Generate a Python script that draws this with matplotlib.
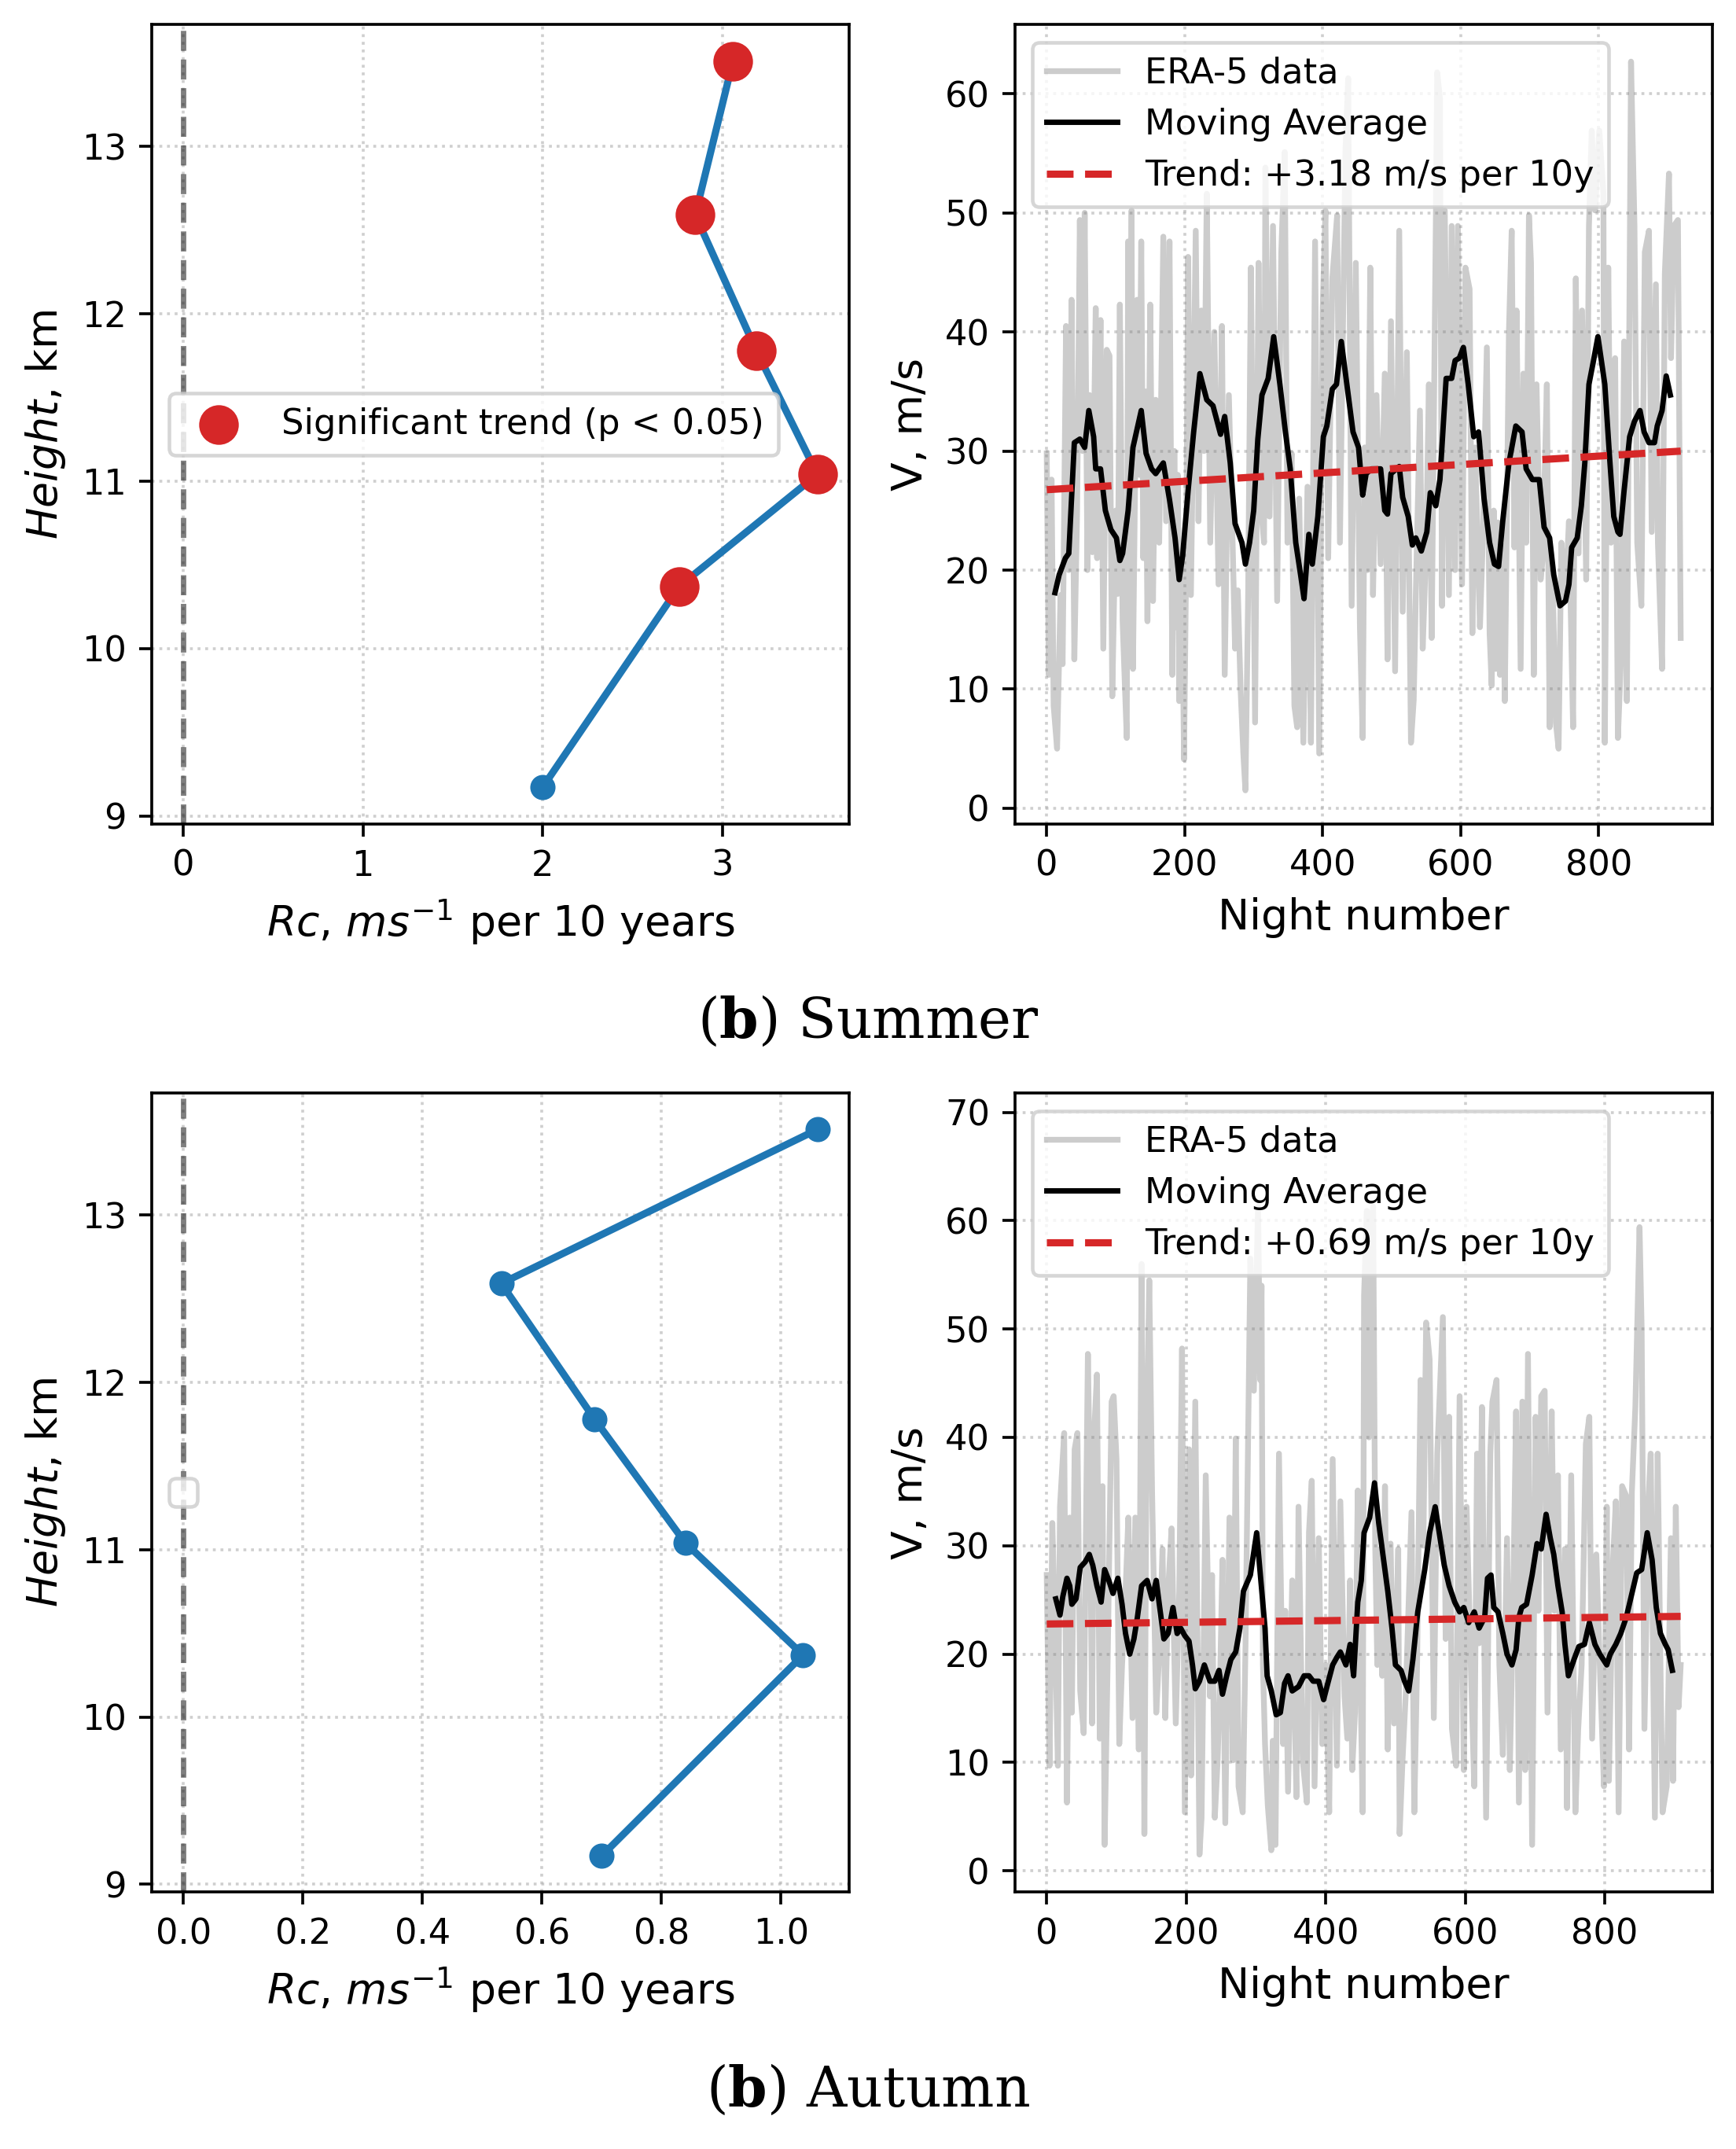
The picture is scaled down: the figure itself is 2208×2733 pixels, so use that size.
import numpy as np
import matplotlib
matplotlib.use('Agg')
import matplotlib.pyplot as plt

# vertical profile of the trend coefficient
heights = [9.17, 10.37, 11.04, 11.78, 12.59, 13.51]
summer_rc = [2.00, 2.76, 3.53, 3.19, 2.85, 3.06]
summer_sig = [False, True, True, True, True, True]
autumn_rc = [0.70, 1.037, 0.84, 0.688, 0.532, 1.061]
autumn_sig = [False, False, False, False, False, False]

# ERA-5 wind speed, summer (night number, m/s)
summer_nights = [0, 3, 7, 10, 15, 20, 23, 28, 32, 36, 40, 44, 48, 52, 55, 59, 62, 66, 71, 73,
                 78, 82, 87, 91, 95, 100, 103, 106, 110, 116, 118, 121, 123, 125, 131, 134, 137, 140, 143, 146,
                 150, 154, 158, 163, 169, 173, 178, 182, 185, 188, 190, 192, 196, 199, 202, 205, 209, 216, 220, 224,
                 228, 232, 237, 243, 249, 254, 258, 264, 270, 273, 277, 281, 285, 288, 292, 296, 302, 307, 311, 315,
                 317, 323, 328, 334, 340, 345, 349, 355, 359, 363, 366, 372, 378, 383, 389, 395, 400, 404, 408, 414,
                 421, 425, 433, 437, 442, 448, 454, 458, 461, 465, 469, 473, 478, 484, 490, 494, 499, 505, 511, 516,
                 522, 528, 532, 535, 541, 545, 550, 554, 558, 564, 566, 570, 573, 577, 583, 587, 592, 596, 602, 607,
                 613, 617, 621, 628, 632, 638, 642, 645, 648, 651, 654, 657, 661, 664, 670, 674, 678, 681, 687, 691,
                 695, 699, 702, 706, 710, 716, 719, 725, 729, 733, 738, 742, 746, 752, 757, 763, 767, 771, 776, 782,
                 786, 790, 795, 801, 807, 809, 814, 818, 824, 828, 833, 837, 841, 847, 852, 856, 862, 867, 873, 877,
                 883, 886, 892, 896, 902, 905, 909, 915, 919]
summer_wind = [29.8, 11.2, 27.6, 8.6, 5.0, 17.9, 12.1, 40.5, 20.0, 42.7, 12.5, 25.0, 49.4, 30.0, 50.0, 20.0, 34.7, 21.5, 42.0, 21.0,
               41.0, 13.4, 38.5, 38.0, 9.4, 25.0, 18.0, 42.3, 15.7, 5.9, 47.6, 30.0, 50.2, 11.7, 42.7, 28.0, 47.6, 21.0, 35.0, 15.7,
               42.3, 17.4, 34.3, 22.3, 48.0, 24.1, 47.6, 11.2, 30.0, 15.2, 28.0, 9.0, 20.0, 4.1, 20.0, 46.3, 17.9, 48.5, 24.1, 41.8,
               30.0, 51.6, 22.3, 40.0, 18.8, 40.5, 11.2, 34.7, 21.0, 13.4, 18.3, 10.0, 4.6, 1.5, 18.0, 45.4, 7.2, 45.8, 25.0, 22.3,
               53.8, 24.5, 48.9, 17.4, 46.7, 55.1, 22.3, 29.8, 8.6, 6.8, 26.0, 5.5, 27.0, 5.5, 47.6, 4.6, 41.8, 50.2, 21.0, 44.5,
               49.8, 22.3, 55.1, 61.3, 17.0, 45.8, 15.2, 5.9, 30.3, 20.0, 45.4, 17.9, 34.7, 20.5, 36.5, 12.5, 40.9, 11.5, 48.5, 16.5,
               38.3, 5.5, 9.1, 17.9, 33.4, 13.4, 21.9, 35.6, 14.3, 48.9, 61.8, 59.6, 17.0, 50.2, 17.9, 48.9, 20.0, 48.9, 18.8, 45.4,
               43.6, 14.7, 30.3, 15.2, 22.3, 38.7, 14.7, 10.3, 25.0, 11.7, 24.0, 11.2, 22.0, 9.0, 40.0, 48.5, 21.9, 41.8, 11.7, 36.5,
               22.3, 49.8, 45.8, 11.2, 35.6, 19.2, 21.0, 35.6, 6.8, 20.0, 7.2, 5.0, 22.3, 17.9, 24.1, 6.8, 44.5, 21.4, 41.8, 19.2,
               48.9, 56.9, 50.2, 56.9, 51.6, 5.5, 45.4, 22.3, 37.8, 5.9, 13.4, 39.2, 9.0, 62.7, 48.9, 22.3, 17.0, 46.7, 48.5, 23.2,
               44.0, 22.3, 11.7, 44.9, 53.3, 37.8, 48.9, 49.4, 14.3]

summer_ma_nights = [12, 18, 27, 32, 40, 48, 55, 61, 68, 71, 78, 85, 93, 101, 106, 110, 118, 125, 137, 144,
                    152, 158, 169, 178, 186, 192, 197, 205, 213, 222, 232, 241, 247, 252, 258, 266, 273, 283, 288, 294,
                    300, 306, 312, 321, 329, 338, 346, 353, 361, 368, 373, 380, 385, 393, 401, 406, 414, 420, 427, 435,
                    444, 452, 458, 463, 471, 478, 484, 490, 494, 499, 511, 516, 524, 530, 535, 543, 551, 556, 564, 570,
                    579, 587, 592, 598, 604, 611, 619, 626, 634, 642, 649, 655, 661, 670, 680, 689, 695, 704, 714, 721,
                    729, 735, 744, 752, 757, 761, 769, 775, 780, 786, 792, 799, 809, 816, 822, 828, 831, 837, 845, 852,
                    860, 866, 873, 881, 885, 892, 898, 904]
summer_ma = [18.1, 19.6, 21.0, 21.4, 30.7, 31.0, 30.3, 33.4, 31.2, 28.5, 28.5, 25.0, 23.4, 22.7, 20.8, 21.4, 25.0, 30.3, 33.4, 29.8,
             28.5, 28.1, 29.0, 25.9, 22.7, 19.2, 21.2, 26.7, 31.6, 36.5, 34.3, 33.8, 32.5, 31.4, 32.9, 29.0, 23.9, 22.3, 20.5, 22.3,
             25.0, 31.0, 34.7, 36.1, 39.6, 35.6, 31.6, 28.5, 22.3, 19.6, 17.6, 23.0, 20.5, 24.5, 31.2, 32.1, 35.2, 35.6, 39.2, 35.6,
             31.6, 30.3, 26.3, 28.1, 28.5, 28.5, 28.5, 25.0, 24.7, 28.1, 28.7, 26.1, 24.5, 22.1, 22.7, 21.6, 23.2, 26.5, 25.4, 27.6,
             36.1, 36.1, 37.6, 37.8, 38.7, 35.6, 31.2, 31.6, 26.0, 22.3, 20.5, 20.3, 24.1, 29.0, 32.1, 31.6, 28.5, 27.6, 27.6, 23.6,
             22.7, 19.6, 17.0, 17.4, 18.8, 21.9, 22.7, 25.4, 29.0, 35.6, 37.4, 39.6, 35.6, 29.4, 24.5, 23.2, 23.0, 26.7, 31.2, 32.5,
             33.4, 31.6, 30.7, 30.7, 32.1, 33.4, 36.3, 34.7]
summer_trend_nights = [0, 919]
summer_trend = [26.75, 29.99]

# ERA-5 wind speed, autumn
autumn_nights = [0, 2, 4, 8, 12, 16, 19, 25, 29, 33, 36, 40, 44, 48, 53, 59, 62, 65, 68, 72,
                 76, 80, 83, 87, 93, 96, 100, 104, 108, 112, 117, 123, 127, 132, 136, 140, 143, 147, 151, 157,
                 162, 166, 170, 174, 179, 185, 190, 194, 198, 204, 207, 213, 219, 222, 228, 234, 237, 241, 245, 249,
                 252, 256, 262, 267, 271, 275, 281, 285, 292, 297, 303, 306, 308, 310, 313, 317, 322, 324, 328, 333,
                 339, 342, 346, 352, 358, 361, 367, 373, 376, 380, 384, 390, 395, 400, 405, 410, 416, 421, 427, 431,
                 435, 438, 442, 446, 450, 453, 455, 459, 462, 465, 468, 471, 474, 478, 481, 485, 489, 493, 498, 504,
                 506, 510, 515, 523, 527, 531, 536, 540, 544, 549, 555, 560, 568, 572, 577, 581, 587, 592, 598, 602,
                 608, 613, 617, 620, 624, 630, 636, 639, 645, 649, 654, 660, 664, 668, 673, 677, 682, 686, 690, 696,
                 701, 705, 709, 714, 718, 724, 728, 733, 737, 743, 746, 752, 758, 762, 767, 773, 778, 782, 788, 793,
                 799, 803, 806, 812, 816, 820, 825, 831, 835, 839, 844, 850, 853, 857, 863, 866, 872, 876, 880, 883,
                 889, 895, 898, 902, 906, 909]
autumn_wind = [27.3, 18.0, 9.7, 32.1, 22.0, 9.7, 33.6, 40.4, 6.3, 32.6, 14.6, 38.9, 40.4, 16.6, 12.7, 47.7, 35.0, 13.6, 40.4, 45.8,
               12.2, 35.5, 2.4, 18.0, 43.3, 43.8, 38.0, 11.7, 19.0, 24.0, 32.6, 14.1, 32.6, 11.2, 56.0, 3.4, 38.5, 54.5, 35.1, 14.6,
               21.0, 29.7, 14.1, 25.8, 31.6, 13.6, 25.8, 48.2, 5.4, 38.9, 8.8, 43.3, 1.5, 4.9, 36.5, 16.1, 27.3, 4.9, 10.2, 19.0,
               28.7, 4.4, 32.6, 10.2, 39.9, 7.8, 5.4, 20.8, 56.5, 44.3, 61.3, 45.3, 54.0, 19.0, 11.7, 6.0, 1.9, 12.0, 2.4, 38.5,
               11.7, 24.0, 7.3, 26.8, 6.8, 33.6, 10.2, 6.3, 31.2, 36.0, 7.8, 30.7, 11.7, 19.0, 5.4, 38.0, 9.7, 34.1, 16.1, 12.2,
               26.8, 9.3, 14.6, 35.1, 17.0, 5.4, 53.1, 60.9, 40.0, 57.9, 61.3, 30.0, 19.0, 29.7, 18.0, 35.5, 11.2, 30.2, 13.6, 29.7,
               3.4, 10.0, 16.6, 33.1, 5.4, 19.0, 45.3, 30.0, 50.6, 47.2, 14.1, 38.5, 51.1, 21.4, 41.9, 13.1, 9.7, 43.8, 9.3, 33.6,
               19.0, 7.8, 38.5, 21.0, 42.8, 4.9, 38.5, 43.3, 45.3, 19.0, 10.7, 30.7, 9.3, 22.0, 42.4, 6.3, 43.3, 9.3, 47.7, 2.4,
               41.9, 24.0, 43.8, 44.3, 14.6, 42.4, 24.0, 36.5, 11.2, 29.7, 5.8, 36.5, 5.4, 13.0, 19.0, 39.4, 41.9, 12.2, 29.2, 19.0,
               7.8, 33.6, 8.3, 28.7, 34.1, 5.4, 35.5, 34.6, 11.2, 35.0, 42.8, 59.4, 50.1, 13.1, 34.6, 38.5, 4.9, 38.5, 19.0, 5.4,
               7.8, 30.7, 8.3, 33.6, 15.1, 19.0]

autumn_ma_nights = [13, 19, 23, 29, 33, 36, 42, 48, 55, 61, 66, 72, 78, 83, 89, 95, 102, 108, 113, 119,
                    125, 130, 136, 144, 151, 157, 162, 168, 174, 181, 187, 192, 198, 204, 209, 213, 219, 226, 234, 241,
                    247, 252, 258, 264, 271, 277, 282, 292, 301, 307, 313, 316, 322, 329, 335, 341, 346, 352, 361, 369,
                    376, 382, 390, 397, 403, 410, 416, 421, 429, 435, 440, 446, 451, 455, 463, 470, 476, 482, 489, 495,
                    500, 508, 513, 519, 525, 532, 542, 549, 557, 564, 570, 577, 585, 592, 598, 605, 613, 620, 628, 632,
                    637, 641, 647, 654, 660, 667, 673, 677, 681, 688, 696, 703, 709, 716, 722, 727, 733, 739, 743, 748,
                    756, 763, 771, 778, 786, 793, 803, 808, 816, 823, 831, 838, 846, 853, 861, 868, 874, 880, 887, 891,
                    897]
autumn_ma = [25.1, 23.6, 25.3, 27.0, 26.3, 24.6, 25.1, 28.0, 28.5, 29.2, 28.2, 26.3, 24.8, 27.8, 26.8, 25.6, 27.0, 24.6, 21.9, 20.0,
             21.4, 23.4, 26.3, 26.8, 25.1, 26.8, 24.3, 21.4, 21.9, 24.3, 21.9, 22.4, 21.7, 21.2, 19.0, 16.8, 17.5, 19.0, 17.5, 17.5,
             18.5, 16.3, 18.0, 19.5, 20.2, 22.4, 25.8, 27.3, 31.2, 26.8, 22.4, 18.0, 16.6, 14.4, 14.6, 17.3, 18.0, 16.6, 17.0, 18.0,
             18.0, 17.5, 17.5, 15.8, 17.3, 19.0, 19.7, 20.2, 19.0, 20.9, 18.0, 24.8, 26.8, 31.2, 32.6, 35.8, 32.1, 29.2, 25.8, 22.4,
             19.0, 18.5, 17.5, 16.6, 19.5, 23.9, 27.8, 31.2, 33.6, 30.7, 28.2, 26.3, 24.8, 23.9, 24.3, 22.9, 23.9, 22.4, 23.4, 27.0,
             27.3, 24.3, 23.9, 21.9, 20.0, 19.0, 20.4, 23.4, 24.3, 24.6, 27.3, 30.2, 29.7, 32.9, 30.7, 29.2, 26.3, 23.9, 20.9, 18.0,
             19.5, 20.7, 20.9, 22.9, 20.9, 20.0, 19.0, 20.0, 20.9, 21.9, 23.4, 25.3, 27.5, 27.8, 31.2, 28.7, 24.3, 21.9, 20.9, 20.4,
             18.5]
autumn_trend_nights = [0, 909]
autumn_trend = [22.78, 23.48]

BLUE = '#1f77b4'
RED = '#d62728'
SMALL = 9.75
BIG = 11.7


def plot_profile(ax, rc, sig):
    ax.axvline(0, color='black', alpha=0.5, linestyle='--', linewidth=1.5)
    ax.plot(rc, heights, marker='o', markersize=6, linewidth=2, color=BLUE)
    rc_sig = [r for r, s in zip(rc, sig) if s]
    h_sig = [h for h, s in zip(heights, sig) if s]
    if rc_sig:
        ax.scatter(rc_sig, h_sig, s=100, color=RED, zorder=3, label='Significant trend (p < 0.05)')
        ax.legend(loc='center left', fontsize=SMALL)
    else:
        # nothing significant: matplotlib still draws an empty legend box
        ax.legend(handles=[], loc='center left', fontsize=SMALL)
    ax.set_xlabel(r'$Rc$, $ms^{-1}$ per 10 years', fontsize=BIG)
    ax.set_ylabel(r'$Height$, km', fontsize=BIG)
    ax.grid(True, linestyle=':', alpha=0.6)
    ax.tick_params(labelsize=SMALL)


def plot_series(ax, nights, wind, ma_nights, ma, tr_nights, tr, trend_txt, xlim, ylim):
    ax.plot(nights, wind, color='gray', alpha=0.4, linewidth=1.6, label='ERA-5 data')
    ax.plot(ma_nights, ma, color='black', linewidth=1.5, label='Moving Average')
    ax.plot(tr_nights, tr, color=RED, linestyle='--', linewidth=2, label=trend_txt)
    ax.set_xlim(xlim)
    ax.set_ylim(ylim)
    ax.set_xlabel('Night number', fontsize=BIG)
    ax.set_ylabel('V, m/s', fontsize=BIG)
    ax.grid(True, linestyle=':', alpha=0.6)
    ax.legend(loc='upper left', fontsize=SMALL)
    ax.tick_params(labelsize=SMALL)


def main():
    fig = plt.figure(figsize=(2208 / 330, 2733 / 330), dpi=330)
    w, h = 0.4017, 0.3718
    ax1 = fig.add_axes([0.0874, 0.6167, w, h])
    ax2 = fig.add_axes([0.5847, 0.6167, w, h])
    ax3 = fig.add_axes([0.0874, 0.1195, w, h])
    ax4 = fig.add_axes([0.5847, 0.1195, w, h])

    plot_profile(ax1, summer_rc, summer_sig)
    plot_series(ax2, summer_nights, summer_wind, summer_ma_nights, summer_ma,
                summer_trend_nights, summer_trend, 'Trend: +3.18 m/s per 10y',
                (-45.95, 964.95), (-1.3, 65.8))
    plot_profile(ax3, autumn_rc, autumn_sig)
    plot_series(ax4, autumn_nights, autumn_wind, autumn_ma_nights, autumn_ma,
                autumn_trend_nights, autumn_trend, 'Trend: +0.69 m/s per 10y',
                (-45.45, 954.45), (-1.97, 71.76))

    fig.text(0.5, 0.517, r'($\mathbf{b}$) Summer', ha='center', va='baseline',
             family='DejaVu Serif', math_fontfamily='dejavuserif', fontsize=15.5)
    fig.text(0.5, 0.0198, r'($\mathbf{b}$) Autumn', ha='center', va='baseline',
             family='DejaVu Serif', math_fontfamily='dejavuserif', fontsize=15.5)

    fig.savefig('out.png', dpi=330)


main()
